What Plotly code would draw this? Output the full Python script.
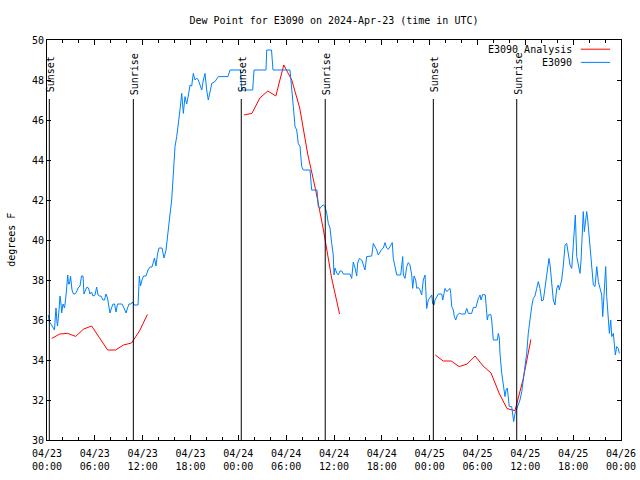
import plotly.graph_objects as go
from datetime import datetime, timedelta

START = datetime(2024, 4, 23, 0, 0)
END = datetime(2024, 4, 26, 0, 0)

# E3090 observations: hours after 2024-04-23 00:00 UTC, dew point (F)
obs_hours = [0.16, 0.31, 0.50, 0.75, 0.94, 1.07, 1.13, 1.25, 1.32, 1.51, 1.63, 1.76, 1.84, 2.01, 2.20, 2.38,
             2.60, 2.70, 2.82, 2.95, 3.14, 3.32, 3.51, 3.70, 3.89, 4.14, 4.33, 4.52, 4.64, 4.83, 5.02, 5.21,
             5.39, 5.58, 5.77, 6.02, 6.23, 6.40, 6.59, 6.77, 7.02, 7.21, 7.40, 7.59, 7.78, 7.90, 8.09, 8.28,
             8.47, 8.66, 8.84, 9.16, 9.41, 9.66, 9.91, 10.10, 10.29, 10.54, 10.73, 10.91, 11.42, 11.58, 11.73,
             11.92, 12.11, 12.42, 12.67, 12.92, 13.17, 13.48, 13.67, 13.86, 14.05, 14.43, 14.68, 14.93, 15.12,
             15.30, 15.49, 15.64, 15.74, 15.84, 16.06, 16.27, 16.47, 16.68, 16.90, 17.10, 17.31, 17.52, 17.72,
             17.94, 18.15, 18.35, 18.57, 18.78, 18.98, 19.19, 19.41, 19.61, 19.82, 20.03, 20.23, 20.45, 20.66,
             21.07, 21.49, 22.70, 22.96, 24.27, 24.42, 25.80, 25.97, 27.47, 27.56, 28.16, 28.35, 30.48, 30.61,
             30.69, 30.90, 31.11, 31.32, 31.52, 31.74, 31.95, 32.15, 32.74, 32.99, 33.20, 33.87, 34.03, 34.25,
             34.46, 34.66, 34.87, 35.09, 35.29, 35.50, 35.71, 35.91, 36.00, 36.13, 36.34, 36.54, 36.75, 36.97,
             37.17, 38.01, 38.22, 38.42, 38.64, 38.85, 38.97, 39.18, 39.48, 39.68, 39.89, 40.10, 40.73, 40.93,
             41.14, 41.36, 41.56, 41.77, 41.98, 42.19, 42.40, 42.61, 42.81, 43.03, 43.31, 43.44, 43.65, 43.87,
             44.37, 44.62, 44.70, 44.91, 45.12, 45.32, 45.53, 45.75, 45.87, 46.04, 46.25, 46.38, 46.58, 46.79,
             47.00, 47.20, 47.42, 47.63, 47.83, 48.04, 48.26, 48.38, 48.55, 48.67, 48.88, 49.09, 49.51, 49.64,
             49.80, 49.93, 50.14, 50.34, 50.55, 50.64, 50.77, 50.97, 51.09, 51.27, 51.47, 51.72, 52.02, 52.43,
             52.65, 52.85, 53.27, 53.48, 53.81, 54.10, 54.32, 54.44, 54.65, 54.98, 55.16, 55.23, 55.36, 55.66,
             55.78, 55.91, 55.98, 56.49, 56.61, 56.74, 56.82, 57.04, 57.24, 57.45, 57.58, 57.74, 57.87, 57.99,
             58.29, 58.42, 58.54, 58.71, 58.92, 59.12, 59.33, 59.55, 59.75, 59.96, 60.17, 60.37, 60.59, 60.80,
             61.00, 61.21, 61.43, 61.63, 61.84, 62.06, 62.26, 62.47, 62.59, 62.76, 62.97, 63.10, 63.31, 63.51,
             63.72, 63.94, 64.14, 64.26, 64.35, 64.56, 64.77, 64.98, 65.19, 65.39, 65.61, 65.82, 66.02, 66.15,
             66.27, 66.45, 66.65, 66.86, 66.99, 67.15, 67.27, 67.40, 67.57, 67.70, 67.83, 67.99, 68.11, 68.33,
             68.53, 68.74, 68.96, 69.16, 69.37, 69.58, 69.71, 69.87, 70.08, 70.21, 70.41, 70.54, 70.71, 70.84,
             71.04, 71.16, 71.29, 71.46, 71.66, 71.79]
obs_dewp = [36.25, 35.9, 35.8, 35.6, 35.5, 36.3, 36.6, 35.9, 35.7, 36.5, 37.2, 36.8, 36.35, 36.8, 36.6, 37.2,
            38.25, 37.8, 37.8, 38.2, 37.5, 37.3, 37.3, 37.4, 37.6, 37.7, 38.2, 38.2, 37.3, 37.5, 37.65, 37.6,
            37.3, 37.4, 37.2, 37.25, 37.65, 37.25, 37.2, 37.2, 37.0, 37.0, 37.3, 37.1, 36.6, 36.35, 36.6, 36.8,
            36.8, 36.4, 36.8, 36.8, 36.8, 36.6, 36.35, 36.6, 36.8, 36.8, 36.9, 36.75, 36.75, 38.2, 37.7,
            38.0, 38.2, 38.2, 38.5, 38.65, 38.65, 39.1, 38.7, 39.3, 39.6, 39.6, 39.1, 39.5, 40.3,
            40.8, 41.5, 42.0, 42.6, 43.5, 44.67, 45.17, 45.75, 46.5, 47.33, 46.33, 47.17, 46.8, 47.2,
            47.75, 47.7, 48.33, 48.0, 48.1, 48.0, 47.75, 47.5, 48.0, 48.33, 47.5, 47.0, 47.4, 47.83,
            47.92, 48.17, 48.17, 48.5, 48.5, 47.5, 47.5, 48.5, 48.5, 49.5, 49.5, 48.5, 48.5, 48.0,
            47.67, 46.67, 45.67, 45.5, 44.83, 44.67, 43.67, 43.5, 43.5, 43.5, 42.5, 42.5, 41.67, 41.58,
            41.7, 41.75, 41.67, 41.33, 40.83, 40.6, 39.83, 39.25, 38.25, 38.6, 38.35, 38.25, 38.45, 38.45,
            38.3, 38.3, 38.08, 38.9, 38.6, 38.2, 38.85, 39.08, 39.0, 38.75, 38.5, 39.17, 39.2, 39.83,
            39.67, 39.5, 39.25, 39.42, 39.53, 39.6, 39.87, 39.6, 39.53, 39.67, 39.87, 39.08, 38.67, 38.25,
            38.25, 39.17, 38.25, 38.08, 38.67, 38.87, 38.75, 38.25, 37.58, 38.2, 38.0, 37.58, 37.63, 37.5,
            37.25, 38.0, 38.25, 36.58, 37.0, 37.1, 37.25, 36.8, 36.75, 37.0, 37.17, 37.3, 37.3, 37.0,
            37.33, 37.58, 37.42, 37.5, 37.58, 37.33, 36.67, 36.5, 36.17, 36.0, 36.25, 36.33, 36.3, 36.3,
            36.58, 36.33, 36.33, 36.63, 36.63, 37.08, 37.25, 37.0, 37.28, 37.25, 36.33, 36.0, 36.25, 36.28,
            36.0, 35.25, 35.0, 35.0, 35.33, 35.1, 34.33, 33.33, 32.83, 32.17, 32.5, 32.6, 32.1, 31.67,
            31.67, 31.33, 30.92, 31.33, 31.58, 31.83, 32.0, 32.42, 33.0, 33.83, 34.33, 35.33, 36.17, 36.67,
            37.08, 37.2, 37.58, 37.92, 37.58, 36.95, 37.0, 37.58, 38.0, 38.6, 39.08, 38.75, 38.0, 37.0,
            36.75, 37.58, 37.75, 37.5, 37.67, 38.0, 38.75, 39.75, 39.83, 39.17, 38.75, 38.58, 39.83, 40.83,
            41.25, 39.17, 38.67, 38.33, 39.0, 40.5, 41.42, 40.42, 41.17, 41.42, 41.0, 40.25, 39.33, 38.5,
            37.75, 37.67, 38.67, 37.92, 37.58, 37.25, 36.17, 37.17, 38.67, 37.17, 35.92, 35.33, 36.0, 35.17,
            35.33, 34.83, 34.25, 34.67, 34.58, 34.33]

# E3090 Analysis: hourly, three runs (None = gap)
ana_hours = [0.6, 1.6, 2.6, 3.6, 4.6, 5.6, 6.6, 7.6, 8.6, 9.6, 10.6, 11.6, 12.6, 18.0,
             24.7, 25.7, 26.7, 27.7, 28.7, 29.7, 30.7, 31.7, 32.7, 33.7, 34.7, 35.7, 36.7, 42.0,
             48.7, 49.7, 50.7, 51.7, 52.7, 53.7, 54.7, 55.7, 56.7, 57.7, 58.7, 59.7, 60.7]
ana_dewp = [35.08, 35.3, 35.33, 35.18, 35.55, 35.7, 35.1, 34.5, 34.5, 34.75, 34.85, 35.45, 36.28, None,
            46.25, 46.33, 47.1, 47.45, 47.2, 48.75, 48.0, 46.6, 44.3, 42.5, 40.45, 38.1, 36.3, None,
            34.25, 33.95, 33.95, 33.67, 33.8, 34.2, 33.7, 33.35, 32.35, 31.57, 31.47, 33.0, 35.03]

# Sun events (hours after start)
sun_labels = ["Sunset", "Sunrise", "Sunset", "Sunrise", "Sunset", "Sunrise"]
sun_hours = [0.29, 10.83, 24.37, 34.90, 48.46, 58.92]

legend_names = ["E3090 Analysis", "E3090"]
legend_colors = ["#ff0000", "#0080ff"]

FONT = "DejaVu Sans Mono"


def to_time(hs):
    return [None if h is None else START + timedelta(hours=h) for h in hs]


fig = go.Figure()
fig.add_trace(go.Scatter(x=to_time(ana_hours), y=ana_dewp, mode="lines", name=legend_names[0],
                         line=dict(color=legend_colors[0], width=1), connectgaps=False, showlegend=False))
fig.add_trace(go.Scatter(x=to_time(obs_hours), y=obs_dewp, mode="lines", name=legend_names[1],
                         line=dict(color=legend_colors[1], width=1), showlegend=False))

for lab, h in zip(sun_labels, sun_hours):
    t = START + timedelta(hours=h)
    fig.add_shape(type="line", xref="x", yref="y", x0=t, x1=t, y0=30, y1=47.05,
                  line=dict(color="black", width=1))
    fig.add_annotation(x=t, y=48.3, xref="x", yref="y", text=lab, textangle=-90, showarrow=False,
                       xanchor="center", yanchor="middle", font=dict(family=FONT, size=10, color="black"),
                       xshift=1)

# legend (text on the left, line sample on the right, like the original)
leg_y = [0.977, 0.944]
for name, col, yy in zip(legend_names, legend_colors, leg_y):
    fig.add_annotation(x=0.918, y=yy, xref="paper", yref="paper", text=name, showarrow=False,
                       xanchor="right", yanchor="middle", font=dict(family=FONT, size=10, color="black"))
    fig.add_shape(type="line", xref="paper", yref="paper", x0=0.930, x1=0.981, y0=yy, y1=yy,
                  line=dict(color=col, width=1))

# y axis title
fig.add_annotation(x=-0.063, y=0.5, xref="paper", yref="paper", text="degrees F", textangle=-90,
                   showarrow=False, xanchor="center", yanchor="middle",
                   font=dict(family=FONT, size=10, color="black"))

fig.update_layout(
    width=640, height=480,
    margin=dict(l=47, r=19, t=40, b=40, autoexpand=False),
    paper_bgcolor="white", plot_bgcolor="white",
    font=dict(family=FONT, size=10, color="black"),
    title=dict(text="Dew Point for E3090 on 2024-Apr-23 (time in UTC)", x=0.5, xref="paper",
               xanchor="center", y=1 - 20 / 480, yanchor="middle", yref="container",
               font=dict(family=FONT, size=10, color="black")),
    showlegend=False,
)
fig.update_xaxes(type="date", range=[START, END], tick0=START, dtick=6 * 3600 * 1000,
                 tickformat="%m/%d<br>%H:%M", ticks="inside", ticklen=5, tickcolor="black",
                 ticklabelstandoff=4, automargin=False,
                 showline=True, linecolor="black", linewidth=1, mirror="allticks", showgrid=False,
                 zeroline=False,
                 minor=dict(ticks="inside", dtick=2 * 3600 * 1000, ticklen=3, tickcolor="black", showgrid=False))
fig.update_yaxes(range=[30, 50], dtick=2, tick0=30, ticks="inside", ticklen=4, tickcolor="black",
                 automargin=False,
                 showline=True, linecolor="black", linewidth=1, mirror="allticks", showgrid=False,
                 zeroline=False)

fig.write_html("out.html", config={"displayModeBar": False},
               post_script="document.body.style.margin='0';document.body.style.overflow='hidden';")
